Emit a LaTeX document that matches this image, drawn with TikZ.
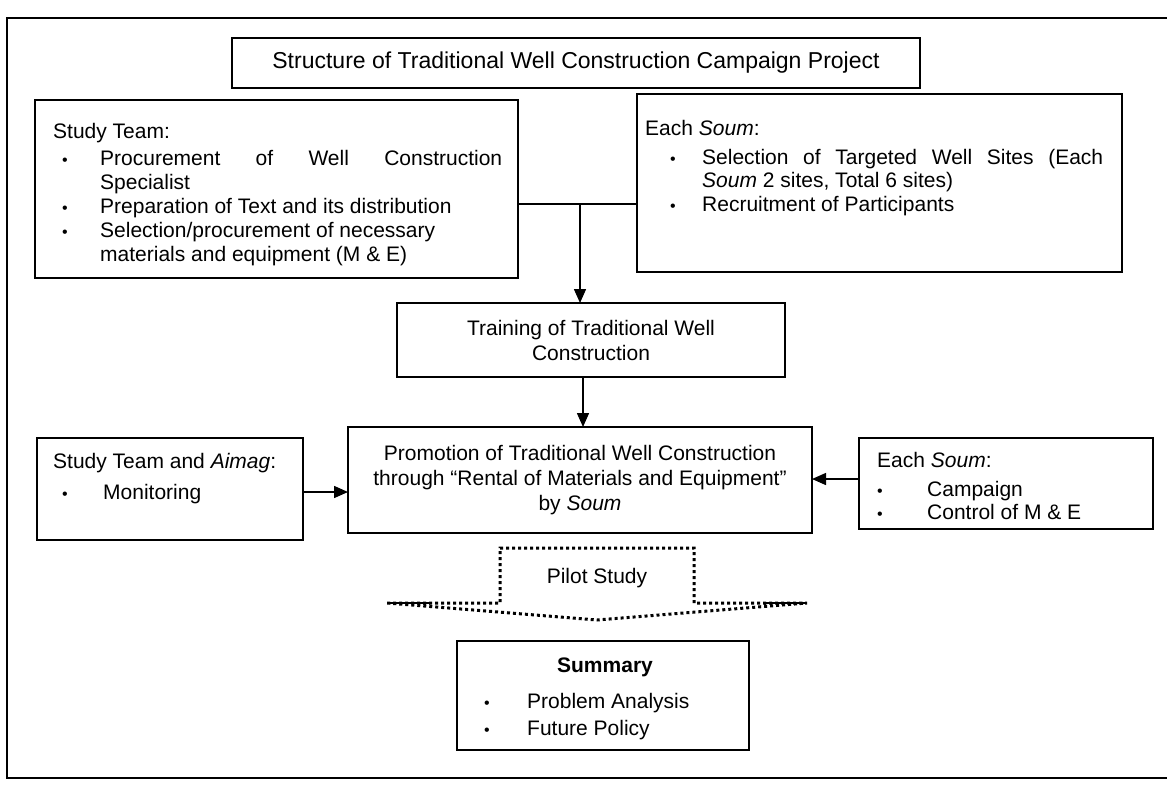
\documentclass[tikz,border=0pt]{standalone}
\usepackage{fontspec}
\setmainfont{Liberation Sans}
\usetikzlibrary{arrows.meta}
\begin{document}
\begin{tikzpicture}[x=1pt,y=-1pt,
  box/.style={draw, line width=1.5pt, inner sep=0pt, outer sep=0pt, anchor=north west},
  txt/.style={inner sep=0pt, anchor=base west, font=\fontsize{21}{24}\selectfont},
  ctxt/.style={align=center, font=\fontsize{21}{25}\selectfont},
  bul/.style={inner sep=0pt, anchor=base, font=\fontsize{16}{16}\selectfont},
  arr/.style={line width=1.5pt, -{Triangle[length=14pt,width=12pt]}},
  ln/.style={line width=1.5pt},
  pilotline/.style={line width=3pt, dash pattern=on 3pt off 3pt}]
\useasboundingbox (0,0) rectangle (1167,795);
\fill[white] (0,0) rectangle (1167,795);
% outer frame
\draw[line width=1.2pt] (1167,18) -- (7,18) -- (7,778) -- (1167,778);
% title
\node[box, minimum width=688pt, minimum height=50pt, font=\fontsize{23}{27}\selectfont] (title) at (232,38) {Structure of Traditional Well Construction Campaign Project};
% study team box
\node[box, minimum width=483pt, minimum height=178pt] (st) at (35,100) {};
\node[txt] (st0) at (53,138) {Study Team:};
\node[bul] (stb1) at (65,165) {•};
\node[txt] (st1) at (100,165) {\makebox[402pt][s]{Procurement of Well Construction}};
\node[txt] (st2) at (100,189) {Specialist};
\node[bul] (stb2) at (65,213) {•};
\node[txt] (st3) at (100,213) {Preparation of Text and its distribution};
\node[bul] (stb3) at (65,237) {•};
\node[txt] (st4) at (100,237) {Selection/procurement of necessary};
\node[txt] (st5) at (100,261) {materials and equipment (M \& E)};
% each soum upper
\node[box, minimum width=485pt, minimum height=178pt] (es) at (637,94) {};
\node[txt] (es0) at (645,135) {Each \textit{Soum}:};
\node[bul] (esb1) at (673,164) {•};
\node[txt] (es1) at (702,164) {\makebox[401pt][s]{Selection of Targeted Well Sites (Each}};
\node[txt] (es2) at (702,187) {\textit{Soum} 2 sites, Total 6 sites)};
\node[bul] (esb2) at (673,211) {•};
\node[txt] (es3) at (702,211) {Recruitment of Participants};
% training
\node[box, minimum width=388pt, minimum height=74pt, ctxt] (tr) at (397,303) {Training of Traditional Well\\Construction};
% promotion
\node[box, minimum width=464pt, minimum height=106pt, ctxt] (pr) at (348,427) {Promotion of Traditional Well Construction\\through “Rental of Materials and Equipment”\\by \textit{Soum}};
% aimag
\node[box, minimum width=266pt, minimum height=102pt] (am) at (37,438) {};
\node[txt] (am0) at (53,468) {Study Team and \textit{Aimag}:};
\node[bul] (amb1) at (65,499) {•};
\node[txt] (am1) at (103,499) {Monitoring};
% each soum lower
\node[box, minimum width=294pt, minimum height=91pt] (er) at (859,438) {};
\node[txt] (er0) at (877,467) {Each \textit{Soum}:};
\node[bul] (erb1) at (880,496) {•};
\node[txt] (er1) at (927,496) {Campaign};
\node[bul] (erb2) at (880,519) {•};
\node[txt] (er2) at (927,519) {Control of M \& E};
% pilot study
\draw[pilotline] (387,603) -- (500,603) -- (500,548) -- (694,548) -- (694,603) -- (807,603) -- (597,620) -- cycle;
\draw[line width=2.5pt] (387,603) -- (430,603);
\draw[line width=2.5pt] (765,603) -- (807,603);
\node[txt, anchor=base] (pilot) at (597,583) {Pilot Study};
% summary
\node[box, minimum width=292pt, minimum height=109pt] (sm) at (457,641) {};
\node[txt, anchor=base, font=\fontsize{21}{24}\selectfont\bfseries] (sm0) at (605,672) {Summary};
\node[bul] (smb1) at (487,708) {•};
\node[txt] (sm1) at (527,708) {Problem Analysis};
\node[bul] (smb2) at (487,735) {•};
\node[txt] (sm2) at (527,735) {Future Policy};
% connectors
\coordinate (j) at (580,204);
\draw[ln] (st.east |- j) -- (es.west |- j);
\draw[arr] (j) -- (tr.north -| j);
\coordinate (k) at (583,0);
\draw[arr] (tr.south -| k) -- (pr.north -| k);
\coordinate (m) at (0,492);
\draw[arr] (am.east |- m) -- (pr.west |- m);
\coordinate (n) at (0,479);
\draw[arr] (er.west |- n) -- (pr.east |- n);
\end{tikzpicture}
\end{document}
